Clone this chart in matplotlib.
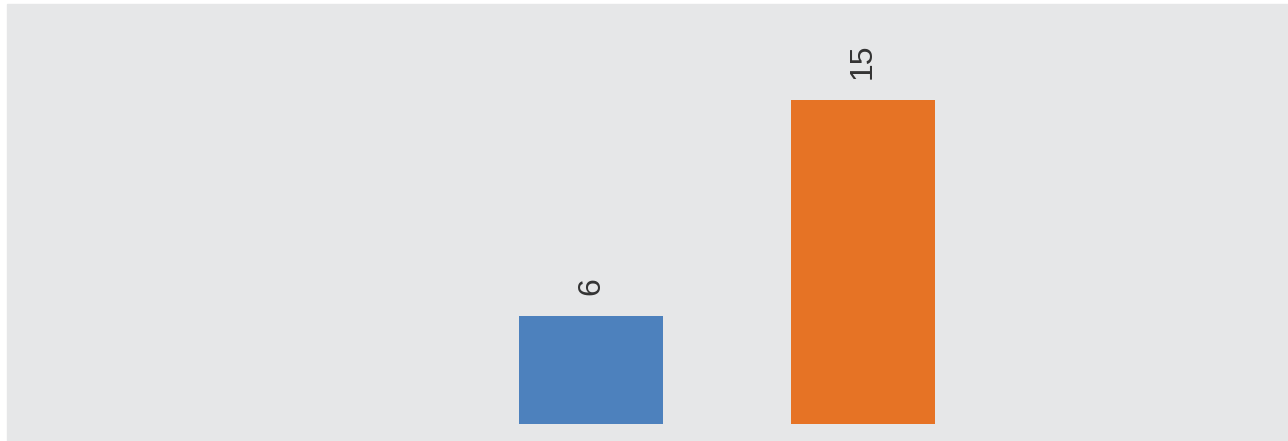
import matplotlib
matplotlib.use("Agg")
import matplotlib.pyplot as plt
from matplotlib.patches import Rectangle

# data
categories = ["A", "B"]
values = [6, 15]
colors = ["#4d81bd", "#e67325"]

W, H = 1288, 441
fig = plt.figure(figsize=(W / 100, H / 100), dpi=100)
fig.patch.set_facecolor("white")

# grey panel behind everything
fig.patches.append(Rectangle((7 / W, 0), 1 - 7 / W, (H - 4) / H,
                             transform=fig.transFigure, color="#e6e7e8",
                             zorder=-1))

ax = fig.add_axes([7 / W, (H - 424) / H, (W - 7) / W, 420 / H])
ax.set_facecolor("none")

x = list(range(len(categories)))
bars = ax.bar(x, values, width=0.53, color=colors)

for xi, v in zip(x, values):
    ax.annotate(str(v), (xi, v), xytext=(0, 15), textcoords="offset points",
                rotation=90, ha="center", va="bottom", fontsize=23,
                color="#333333", family="Liberation Sans")

ax.set_xlim(-2.147, 2.5625)
ax.set_ylim(1.5, 19)
ax.axis("off")

fig.savefig("out.png", dpi=100)
